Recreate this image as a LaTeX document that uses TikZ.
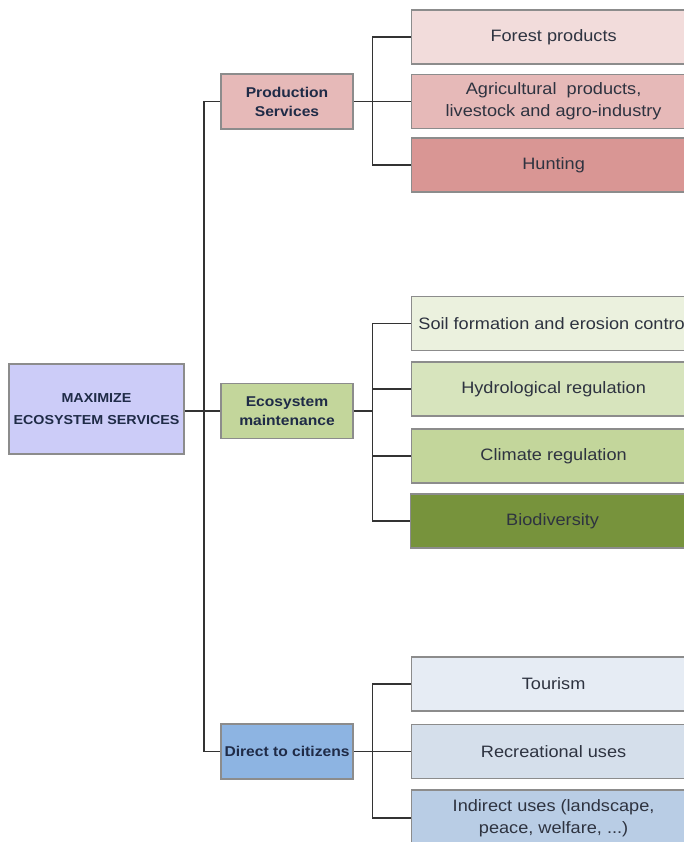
\documentclass[tikz,border=0pt]{standalone}
\usepackage{fontspec}
\setmainfont{Liberation Sans}[FakeStretch=1.1]
\definecolor{boxline}{HTML}{8C8C8C}
\definecolor{linkc}{HTML}{333333}
\definecolor{leaftext}{HTML}{2E3340}
\definecolor{headtext}{HTML}{1F2B47}
\definecolor{rootfill}{HTML}{CCCCF8}
\definecolor{prodfill}{HTML}{E6B9B8}
\definecolor{ecofill}{HTML}{C3D69B}
\definecolor{citfill}{HTML}{8DB4E2}
\definecolor{forestfill}{HTML}{F2DCDB}
\definecolor{agrifill}{HTML}{E6B9B8}
\definecolor{huntfill}{HTML}{D99694}
\definecolor{soilfill}{HTML}{EBF1DE}
\definecolor{hydrofill}{HTML}{D7E4BD}
\definecolor{climfill}{HTML}{C3D69B}
\definecolor{biofill}{HTML}{77933C}
\definecolor{tourfill}{HTML}{E6ECF4}
\definecolor{recfill}{HTML}{D5DFEB}
\definecolor{indfill}{HTML}{B9CDE5}
\begin{document}
\begin{tikzpicture}[x=1pt,y=-1pt,
  box/.style={draw=boxline, line width=1.2pt, align=center, inner sep=0pt},
  leaf/.style={box, anchor=west, minimum width=284pt, minimum height=54pt,
    text=leaftext, font=\fontsize{16.5}{22}\selectfont},
  group/.style={box, minimum width=132pt, minimum height=55pt,
    text=headtext, font=\bfseries\fontsize{14.2}{19}\selectfont},
  rootbox/.style={box, minimum width=175pt, minimum height=90pt,
    text=headtext, font=\bfseries\fontsize{13}{22}\selectfont},
  link/.style={draw=linkc, line width=1.5pt}]
\clip (0,0) rectangle (684,842);
\fill[white] (0,0) rectangle (684,842);

% root
\node[rootbox, fill=rootfill] (root) at (96.5,409) {MAXIMIZE\\ECOSYSTEM SERVICES};

% second level
\node[group, fill=prodfill] (prod) at (287,101.5) {Production\\Services};
\node[group, fill=ecofill] (eco) at (287,411) {Ecosystem\\maintenance};
\node[group, fill=citfill] (cit) at (287,751.5) {Direct to citizens};

% leaves: production
\node[leaf, fill=forestfill] (forest) at (411,37) {Forest products};
\node[leaf, fill=agrifill] (agri) at (411,101.5) {Agricultural\ \ products,\\livestock and agro-industry};
\node[leaf, fill=huntfill] (hunt) at (411,165) {Hunting};

% leaves: ecosystem maintenance
\node[leaf, fill=soilfill] (soil) at (411,323.5) {Soil formation and erosion control};
\node[leaf, fill=hydrofill] (hydro) at (411,389) {Hydrological regulation};
\node[leaf, fill=climfill] (clim) at (411,456) {Climate regulation};
\node[leaf, fill=biofill] (bio) at (410,521) {Biodiversity};

% leaves: direct to citizens
\node[leaf, fill=tourfill] (tour) at (411,684) {Tourism};
\node[leaf, fill=recfill] (rec) at (411,751.5) {Recreational uses};
\node[leaf, fill=indfill, minimum height=56pt] (ind) at (411,818) {Indirect uses (landscape,\\peace, welfare, ...)};

% trunk from root to the three groups
\coordinate (trunk) at (204,411);
\draw[link] (root.east |- trunk) -- (trunk);
\draw[link] (trunk) |- (prod.west);
\draw[link] (trunk) |- (cit.west);
\draw[link] (trunk) -- (eco.west);

% branches from each group to its leaves
\foreach \g/\a/\b/\c in {prod/forest/agri/hunt, eco/soil/hydro/clim, cit/tour/rec/ind}{
  \draw[link] (\g.east) -- ++(19,0) coordinate (\g-j);
  \draw[link] (\g-j) |- (\a.west);
  \draw[link] (\g-j) |- (\b.west);
  \draw[link] (\g-j) |- (\c.west);
}
\draw[link] (eco-j) |- (bio.west);
\end{tikzpicture}
\end{document}
